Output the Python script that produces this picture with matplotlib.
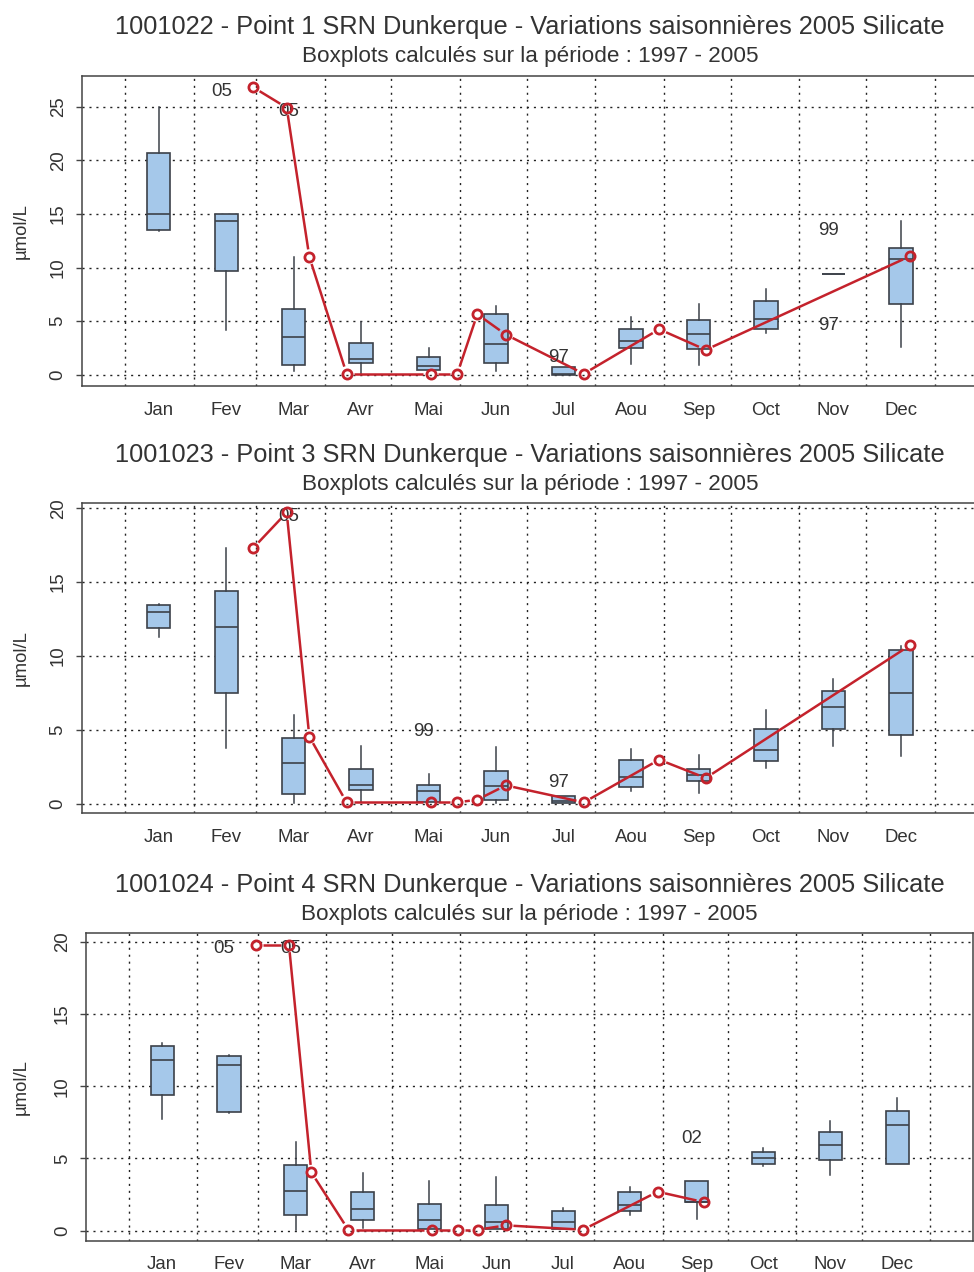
import numpy as np
import matplotlib.pyplot as plt

plt.rcParams['font.family'] = ['Liberation Sans', 'DejaVu Sans']

W, H = 974, 1272

months = ['Jan', 'Fev', 'Mar', 'Avr', 'Mai', 'Jun', 'Jul', 'Aou', 'Sep', 'Oct', 'Nov', 'Dec']
month_starts = [0, 31, 59, 90, 120, 151, 181, 212, 243, 273, 304, 334, 365]

titles = ['1001022 - Point 1 SRN Dunkerque - Variations saisonnières 2005 Silicate',
          '1001023 - Point 3 SRN Dunkerque - Variations saisonnières 2005 Silicate',
          '1001024 - Point 4 SRN Dunkerque - Variations saisonnières 2005 Silicate']
subtitle = 'Boxplots calculés sur la période : 1997 - 2005'

# boxplot statistics 1997-2005, per month (µmol/L)
p1_whislo = [13.4, 4.2, 0.35, 0.1, 0.4, 0.35, 0.03, 1.05, 0.95, 3.9, 9.37, 2.6]
p1_q1 = [13.5, 9.7, 0.9, 1.15, 0.45, 1.15, 0.03, 2.5, 2.4, 4.28, 9.37, 6.6]
p1_med = [15.0, 14.3, 3.57, 1.5, 0.83, 2.9, 0.08, 3.2, 3.8, 5.2, 9.37, 10.8]
p1_q3 = [20.7, 15.0, 6.1, 2.95, 1.7, 5.65, 0.75, 4.25, 5.15, 6.85, 9.37, 11.8]
p1_whishi = [25.0, 15.0, 11.0, 4.93, 2.5, 6.4, 0.75, 5.4, 6.6, 8.0, 9.37, 14.3]

p2_whislo = [11.26, 3.75, 0.07, 0.14, 0.14, 0.07, 0.07, 0.86, 0.74, 2.41, 3.93, 3.23]
p2_q1 = [11.87, 7.47, 0.65, 0.93, 0.14, 0.27, 0.07, 1.1, 1.56, 2.91, 5.06, 4.67]
p2_med = [12.95, 11.98, 2.78, 1.29, 0.84, 1.17, 0.2, 1.78, 1.96, 3.63, 6.52, 7.47]
p2_q3 = [13.47, 14.42, 4.45, 2.32, 1.29, 2.21, 0.54, 2.96, 2.37, 5.06, 7.63, 10.4]
p2_whishi = [13.5, 17.33, 5.98, 3.9, 1.99, 3.86, 0.54, 3.68, 3.29, 6.32, 8.46, 10.7]

p3_whislo = [7.73, 8.17, 0.05, 0.16, 0.09, 0.12, 0.12, 1.08, 0.81, 4.48, 3.83, 4.59]
p3_q1 = [9.39, 8.19, 1.06, 0.72, 0.09, 0.12, 0.12, 1.36, 1.96, 4.59, 4.87, 4.64]
p3_med = [11.79, 11.49, 2.77, 1.48, 0.74, 0.6, 0.62, 1.78, 1.98, 5.01, 5.91, 7.31]
p3_q3 = [12.78, 12.09, 4.52, 2.68, 1.82, 1.8, 1.38, 2.7, 3.44, 5.47, 6.8, 8.3]
p3_whishi = [13.0, 12.16, 6.14, 4.01, 3.41, 3.71, 1.57, 3.05, 3.44, 5.7, 7.61, 9.2]

# outliers labelled with their year (month index, value, label)
p1_out_month = [1, 2, 6, 10, 10]
p1_out_val = [26.8, 24.9, 2.05, 13.8, 5.0]
p1_out_lab = ['05', '05', '97', '99', '97']
p2_out_month = [2, 4, 6]
p2_out_val = [19.72, 5.15, 1.7]
p2_out_lab = ['05', '99', '97']
p3_out_month = [1, 2, 8]
p3_out_val = [19.79, 19.79, 6.7]
p3_out_lab = ['05', '05', '02']

# 2005 measurements (day of year, value)
days_2005 = [57.8, 72.9, 83.1, 99.9, 137.9, 149.8, 158.8, 171.7, 206.8, 240.8, 261.8, 353.8]
p1_2005 = [26.8, 24.9, 11.0, 0.1, 0.1, 0.1, 5.65, 3.75, 0.1, 4.25, 2.33, 11.05]
p2_2005 = [17.31, 19.72, 4.54, 0.09, 0.09, 0.09, 0.27, 1.24, 0.09, 2.98, 1.74, 10.72]
p3_2005 = [19.79, 19.79, 4.04, 0.07, 0.07, 0.07, 0.07, 0.37, 0.07, 2.70, 1.98, np.nan]

panels = [
    dict(rect=(81.7, 75.7, 978, 386), ylim=(-1.04, 27.88), yticks=[0, 5, 10, 15, 20, 25],
         stats=(p1_whislo, p1_q1, p1_med, p1_q3, p1_whishi),
         out=(p1_out_month, p1_out_val, p1_out_lab), line=p1_2005),
    dict(rect=(81.7, 503.3, 978, 813.3), ylim=(-0.65, 20.34), yticks=[0, 5, 10, 15, 20],
         stats=(p2_whislo, p2_q1, p2_med, p2_q3, p2_whishi),
         out=(p2_out_month, p2_out_val, p2_out_lab), line=p2_2005),
    dict(rect=(86, 933.3, 973.3, 1240.7), ylim=(-0.69, 20.58), yticks=[0, 5, 10, 15, 20],
         stats=(p3_whislo, p3_q1, p3_med, p3_q3, p3_whishi),
         out=(p3_out_month, p3_out_val, p3_out_lab), line=p3_2005),
]

box_fill = '#A5C8EA'
dark = '#3C4149'
red = '#C4222C'
txt = '#333333'

box_pos = 15.2 + 365 / 12 * np.arange(12)


def gapped_line(ax, x, y, gap, **kw):
    # R type="b": segments stop short of the points
    pts = ax.transData.transform(np.column_stack([x, y]))
    inv = ax.transData.inverted()
    for p0, p1 in zip(pts[:-1], pts[1:]):
        d = p1 - p0
        L = np.hypot(*d)
        if L <= 2 * gap:
            continue
        u = d / L
        seg = inv.transform(np.array([p0 + u * gap, p1 - u * gap]))
        ax.plot(seg[:, 0], seg[:, 1], color=red, lw=1.8, zorder=4, solid_capstyle='butt', **kw)


fig = plt.figure(figsize=(W / 100, H / 100), dpi=100)

for i, p in enumerate(panels):
    l, t, r, b = p['rect']
    ax = fig.add_axes([l / W, 1 - b / H, (r - l) / W, (b - t) / H])
    ax.set_xlim(-19.5, 384.5)
    ax.set_ylim(*p['ylim'])

    # dotted grid
    for ms in month_starts:
        ax.axvline(ms, color='#222222', lw=1.0, ls=(0, (1.5, 3.5)), zorder=1)
    for yt in p['yticks']:
        ax.axhline(yt, color='#222222', lw=1.0, ls=(0, (1.5, 3.5)), zorder=1)

    wl, q1, med, q3, wh = p['stats']
    bstats = [dict(whislo=wl[k], q1=q1[k], med=med[k], q3=q3[k], whishi=wh[k], fliers=[])
              for k in range(12)]
    ax.bxp(bstats, positions=box_pos, widths=10.5, showcaps=False, showfliers=False,
           patch_artist=True, manage_ticks=False,
           boxprops=dict(facecolor=box_fill, edgecolor=dark, lw=1.2),
           medianprops=dict(color=dark, lw=1.2),
           whiskerprops=dict(color=dark, lw=1.1), zorder=2)

    om, ov, olab = p['out']
    for m, v, s in zip(om, ov, olab):
        ax.annotate(s, xy=(box_pos[m], v), xytext=(-3.5, -3), textcoords='offset points',
                    ha='center', va='center', fontsize=13.4, color=txt, zorder=5)

    xs = np.array(days_2005)
    ys = np.array(p['line'])
    ok = ~np.isnan(ys)
    gapped_line(ax, xs[ok], ys[ok], 7.5)
    ax.plot(xs[ok], ys[ok], ls='none', marker='o', ms=6.6, mfc='none', mec=red, mew=2.0, zorder=5)

    ax.set_xticks(box_pos)
    ax.set_xticklabels(months)
    ax.set_yticks(p['yticks'])
    ax.tick_params(axis='x', length=0, pad=11.2, labelsize=13.4, labelcolor=txt)
    ax.tick_params(axis='y', length=4.3, width=1.0, color='#444444', pad=6.5,
                   labelsize=13.4, labelcolor=txt, labelrotation=90)
    for lab in ax.get_yticklabels():
        lab.set_va('center')
    for sp in ax.spines.values():
        sp.set_color('#444444')
        sp.set_linewidth(1.1)

    ax.set_ylabel('µmol/L', fontsize=13.4, color=txt, va='center')
    ax.yaxis.set_label_coords((21.5 - l) / (r - l), 0.5)

    # title and subtitle, offsets in points above the frame
    ax.annotate(titles[i], xy=(0.5, 1), xycoords='axes fraction', xytext=(0, 41.4 * 0.72),
                textcoords='offset points', ha='center', va='baseline', fontsize=18.3, color=txt)
    ax.annotate(subtitle, xy=(0.5, 1), xycoords='axes fraction', xytext=(0, 13.6 * 0.72),
                textcoords='offset points', ha='center', va='baseline', fontsize=16.2, color=txt)

fig.savefig('out.png', dpi=100)
